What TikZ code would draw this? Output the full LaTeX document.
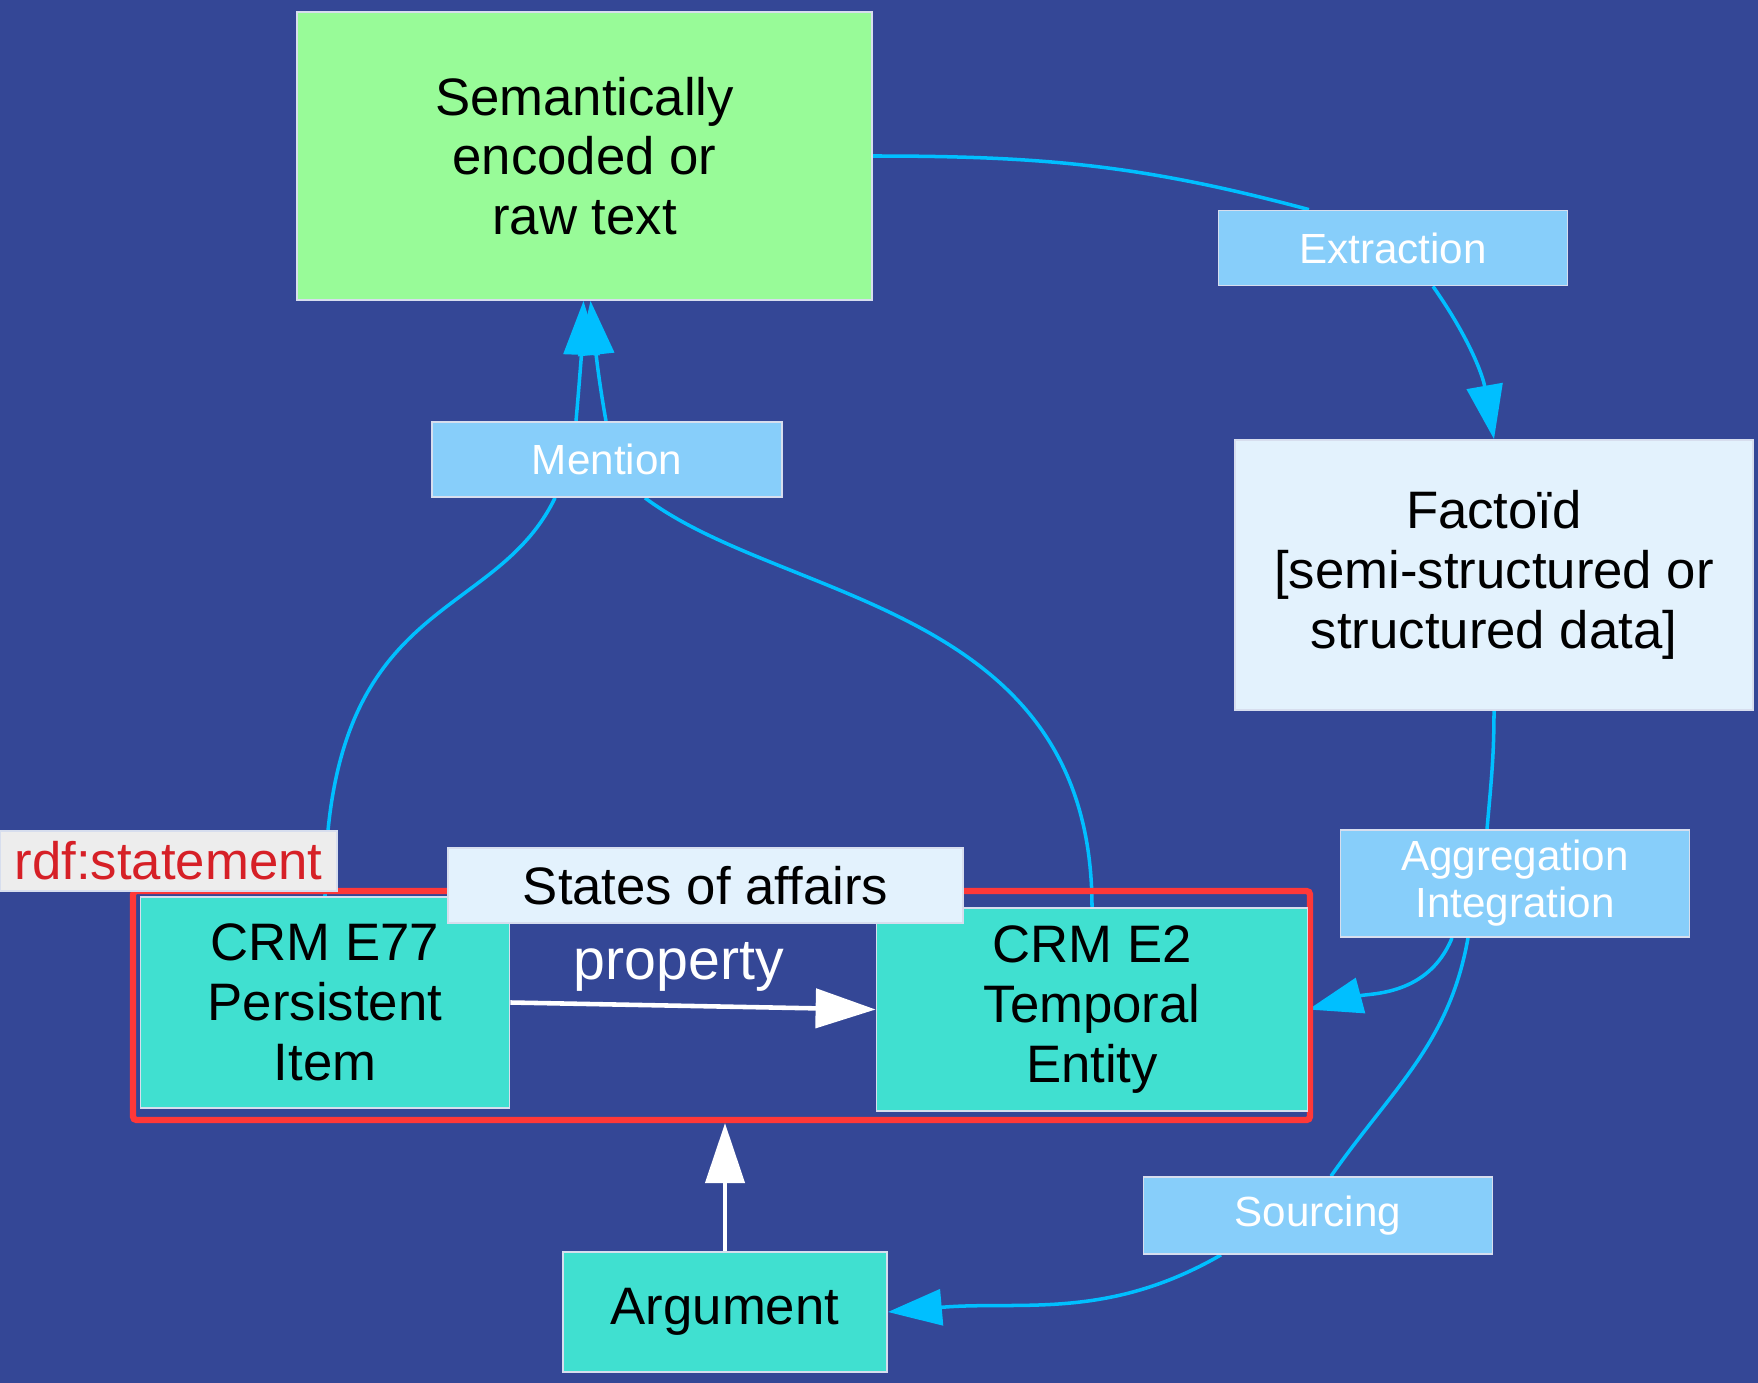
\documentclass[tikz,border=0pt]{standalone}
\usepackage{fontspec}
\setmainfont{Liberation Sans}
\usetikzlibrary{arrows.meta,positioning}

\definecolor{bgblue}{RGB}{52,71,150}
\definecolor{textgreen}{RGB}{152,251,152}
\definecolor{paleblue}{RGB}{227,242,253}
\definecolor{lblblue}{RGB}{135,206,250}
\definecolor{crmteal}{RGB}{64,224,208}
\definecolor{flowblue}{RGB}{0,191,255}
\definecolor{framered}{RGB}{255,56,56}
\definecolor{rdfred}{RGB}{214,32,39}
\definecolor{boxline}{RGB}{215,222,238}

\newcommand{\bigtext}{\fontsize{15}{17}\selectfont}
\newcommand{\lbltext}{\fontsize{12}{13.4}\selectfont}

\pgfdeclarelayer{bg}
\pgfdeclarelayer{edges}
\pgfsetlayers{bg,edges,main}

\tikzset{
  box/.style={draw=boxline, line width=0.5pt, align=center, inner sep=0pt, font=\bigtext},
  lbl/.style={box, fill=lblblue, text=white, font=\lbltext},
  crm/.style={box, fill=crmteal},
  link/.style={draw=flowblue, line width=1pt},
  flow/.style={link, -{Triangle[length=5.4mm,width=3.6mm]}},
  whitearrow/.style={draw=white, line width=1.3pt, -{Triangle[length=6mm,width=3.9mm]}}
}

\begin{document}
\begin{tikzpicture}
  \useasboundingbox (0,0) rectangle (17.58,-13.83);
  \begin{pgfonlayer}{bg}
    \fill[bgblue] (0,0) rectangle (17.58,-13.83);
  \end{pgfonlayer}

  % Sources and factoids
  \node[box, fill=textgreen, minimum width=5.75cm, minimum height=2.88cm] (text) at (5.845,-1.56)
    {Semantically\\encoded or\\raw text};
  \node[box, fill=paleblue, minimum width=5.18cm, minimum height=2.70cm] (factoid) at (14.94,-5.75)
    {Facto\"id\\{[}semi-structured or\\structured data{]}};

  % States of affairs
  \node[draw=framered, line width=1.8pt, rounded corners=1pt, minimum width=11.77cm, minimum height=2.29cm] (soa) at (7.215,-10.055) {};
  \node[crm, minimum width=3.69cm, minimum height=2.11cm] (e77) at (3.25,-10.025) {CRM E77\\Persistent\\Item};
  \node[crm, minimum width=4.31cm, minimum height=2.03cm] (e2) at (10.92,-10.095) {CRM E2\\Temporal\\Entity};
  \node[box, fill=paleblue, minimum width=5.15cm, minimum height=0.75cm] (states) at (7.055,-8.855) {States of affairs};
  \node[box, fill=black!7, text=rdfred, minimum width=3.37cm, minimum height=0.60cm] (rdf) at (1.685,-8.61) {rdf:statement};
  \node[text=white, font=\fontsize{16.3}{18}\selectfont] (prop) at (6.79,-9.67) {property};
  \node[crm, minimum width=3.24cm, minimum height=1.20cm] (argument) at (7.25,-13.12) {Argument};

  % Process labels
  \node[lbl, minimum width=3.49cm, minimum height=0.75cm] (extraction) at (13.93,-2.48) {Extraction};
  \node[lbl, minimum width=3.50cm, minimum height=0.75cm] (mention) at (6.07,-4.595) {Mention};
  \node[lbl, minimum width=3.49cm, minimum height=1.07cm] (aggregation) at (15.15,-8.835) {Aggregation\\Integration};
  \node[lbl, minimum width=3.49cm, minimum height=0.77cm] (sourcing) at (13.18,-12.155) {Sourcing};

  \begin{pgfonlayer}{edges}
    \draw[link] (text.east) to[out=0, in=165] ([xshift=-8.4mm]extraction.north);
    \draw[flow] ([xshift=4mm]extraction.south) to[out=-55, in=100] (factoid.north);
    \draw[link] (e77.north) .. controls +(0,3.03) and +(-0.62,-1.28) .. ([xshift=-5.2mm]mention.south);
    \draw[link] (e2.north) .. controls +(0,3.03) and +(1.40,-1.05) .. ([xshift=3.8mm]mention.south);
    \draw[flow] ([xshift=-3.1mm]mention.north) to[out=85, in=-92] ([xshift=-0.1mm]text.south);
    \draw[flow] ([xshift=-0.1mm]mention.north) to[out=100, in=-84] ([xshift=0.6mm]text.south);
    \draw[link] (factoid.south) to[out=-90, in=85] ([xshift=-2.8mm]aggregation.north);
    \draw[flow] ([xshift=-6.3mm]aggregation.south) to[out=-112, in=15] (e2.east);
    \draw[link] ([xshift=-4.7mm]aggregation.south) to[out=-100, in=55] ([xshift=1.3mm]sourcing.north);
    \draw[flow] ([xshift=-9.7mm]sourcing.south) to[out=-150, in=5] (argument.east);
  \end{pgfonlayer}

  \draw[whitearrow] (e77.east) -- (e2.west);
  \draw[whitearrow] (argument.north) -- (soa.south -| argument.north);
\end{tikzpicture}
\end{document}
